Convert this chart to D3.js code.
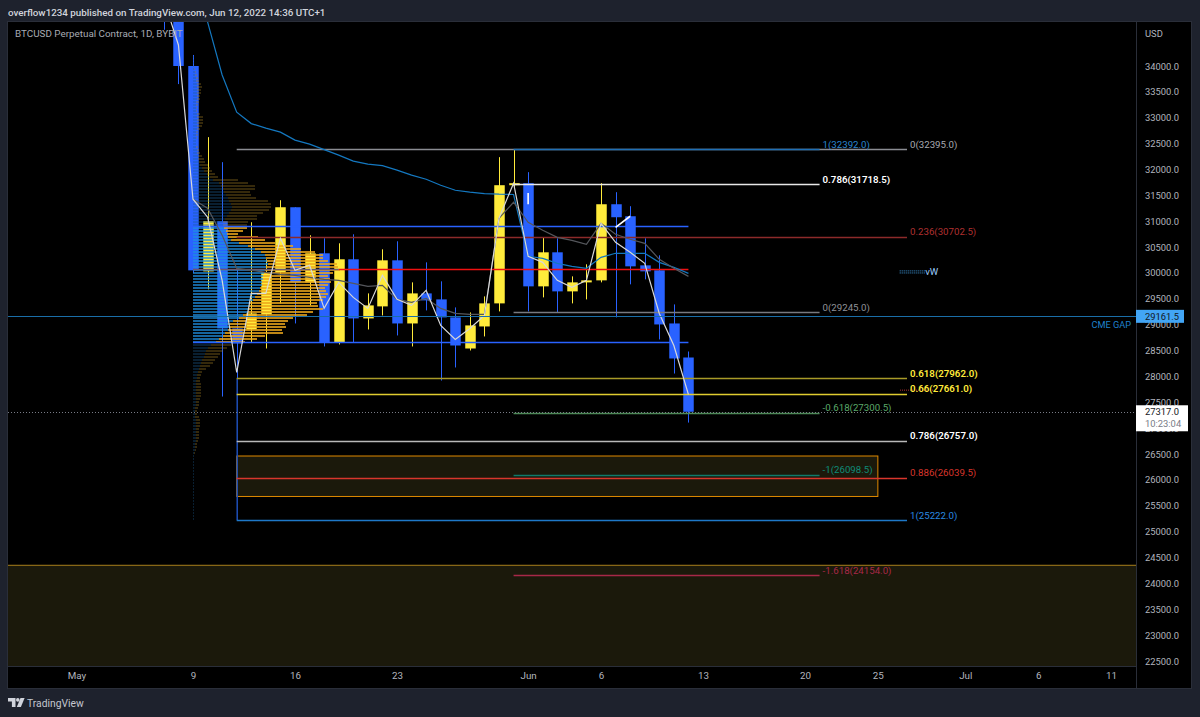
<!DOCTYPE html>
<html>
<head>
<meta charset="utf-8">
<script src="https://cdn.jsdelivr.net/npm/d3@7"></script>
<style>
html, body { margin: 0; padding: 0; background: #1e222d; }
svg { display: block; font-family: Roboto, sans-serif; }
</style>
</head>
<body>
<script>
// daily candles from 7 May 2022
var firstDay = "2022-05-07";
var opens  = [36500,35100,34000,30030,31000,28928,28908,29199,30012,31270,29818,30380,28657,30264,29121,29354,30244,29024,29605,29489,29141,28540,28966,29412,31696,31735,29741,30399,29644,29818,29857,31328,31096,30147,30051,29024,28366];
var highs  = [37000,35300,34213,32625,32141,30089,30980,30264,31406,31270,30728,30670,30573,30747,29605,30457,30612,29818,30205,29838,29334,29237,29547,32238,32393,31948,30689,30670,29934,30167,31735,31561,31290,30670,30341,29392,28482];
var lows   = [34700,33650,30000,29683,27611,27950,28657,28540,29412,29024,29373,28579,28618,28657,28908,29179,28792,28579,29276,27921,28173,28502,28773,29257,31657,29257,29528,29237,29412,29489,29818,29141,29780,29876,28715,28056,27108];
var closes = [35100,34000,30050,31000,28928,28637,29218,30012,31270,29818,30380,28657,30264,29121,29373,30244,29024,29605,29470,29141,28598,28986,29412,31696,31735,29741,30399,29644,29818,29857,31328,31077,30128,30031,29005,28347,27317];

// moving lines over the candles
var whiteLine = [35278,34407,31425,31077,29857,28076,29605,29605,30670,30051,30147,29315,29818,29528,29315,29954,29489,29373,29663,28986,28715,28928,29179,31057,31735,30322,30205,29857,29721,29857,30960,30593,30399,30186,29218,28598,27650];
var grayLine  = [31425,31251,30728,30089,30051,30012,29973,29954,29915,29876,29857,29799,29741,29760,29489,29431,29508,29315,29218,29199,29199,31057,31367,30980,30825,30689,30631,30554,30960,30747,30651,30573,30264,30089,29934];
var tealLine  = [35955,34852,33826,33109,32887,32800,32722,32567,32490,32383,32277,32161,32103,32074,31987,31890,31812,31696,31599,31561,31535,31522,31516,30322,30283,30186,30128,30089,30302,30380,30380,30380,30205,30109,29992];
var lineStarts = { white: "2022-05-07", gray: "2022-05-09", teal: "2022-05-09" };

// volume profile rows, top row price and row size in USD
var profileTop = 34190;
var profileStep = 58;
var valueHigh = 30898;
var valueLow = 28656;
var profileDown = [1,1,1,1,1,2,2,3,3,4,4,4,4,4,4,3,3,3,3,4,4,4,4,4,4,3,3,3,3,3,3,4,4,5,5,6,7,9,11,14,17,20,26,28,30,31,33,35,36,38,39,38,36,34,32,30,30,31,33,34,35,38,46,55,62,68,72,73,74,75,73,72,71,70,70,69,69,67,66,64,62,60,57,56,56,55,50,46,40,37,36,35,32,30,26,23,18,15,13,12,11,9,8,7,6,5,4,4,3,3,3,3,3,3,3,3,3,2,2,2,2,3,3,3,3,3,3,3,3,2,2,2,1,1,1,1,1,1,1,1,1,1,1,1,1,1,1,1,1,1,1,1,1,1,1];
var profileUp = [0,0,0,0,1,1,2,2,3,4,5,4,4,3,3,3,2,1,1,3,6,6,6,5,3,2,2,1,0,0,2,2,3,4,6,6,8,8,8,8,8,25,29,34,32,26,25,28,39,40,39,38,34,30,32,25,24,23,17,11,30,34,36,45,46,54,58,57,61,69,72,75,69,65,67,69,66,65,67,71,71,70,67,69,74,65,64,54,55,55,57,54,58,42,38,29,20,19,17,15,14,13,12,10,7,4,4,3,4,5,5,5,5,5,4,3,3,3,2,2,4,4,4,4,3,3,3,3,2,2,2,1,1,0,0,0,0,0,0,0,0,0,0,0,0,0,0,0,0,0,0,0,0,0,0];

// horizontal levels: fib tools, profile lines, CME gap
var levelPrices = [32395,32392,31718.5,30898,30702.5,30077,29245,28656,27962,27661,27300.5,26757,26098.5,26039.5,25222,24154];
var levelNames  = ["0(32395.0)","1(32392.0)","0.786(31718.5)","","0.236(30702.5)","","0(29245.0)","","0.618(27962.0)","0.66(27661.0)","-0.618(27300.5)","0.786(26757.0)","-1(26098.5)","0.886(26039.5)","1(25222.0)","-1.618(24154.0)"];
var levelFrom   = ["2022-05-12","2022-05-31","2022-05-31","2022-05-09","2022-05-12","2022-05-19","2022-05-31","2022-05-09","2022-05-12","2022-05-12","2022-05-31","2022-05-12","2022-05-31","2022-05-12","2022-05-12","2022-05-31"];
var levelTo     = ["2022-06-27","2022-06-21","2022-06-21","2022-06-12","2022-06-27","2022-06-12","2022-06-21","2022-06-12","2022-06-27","2022-06-27","2022-06-21","2022-06-27","2022-06-21","2022-06-27","2022-06-27","2022-06-21"];

var priceTicks = [22500,23000,23500,24000,24500,25000,25500,26000,26500,27000,27500,28000,28500,29000,29500,30000,30500,31000,31500,32000,32500,33000,33500,34000];
var timeTicks  = ["2022-05-01","2022-05-09","2022-05-16","2022-05-23","2022-06-01","2022-06-06","2022-06-13","2022-06-20","2022-06-25","2022-07-01","2022-07-06","2022-07-11"];
var timeLabels = ["May","9","16","23","Jun","6","13","20","25","Jul","6","11"];

var cmeGap = 29161.5;
var lastPrice = 27317;
var fibBox = { from: "2022-05-12", to: "2022-06-25", top: 26462, bottom: 25680 };
var supportTop = 24350;

var width = 1200, height = 717;
var plot = { left: 8, right: 1136, top: 22, bottom: 666, edge: 1191, foot: 688 };

var parse = d3.utcParse("%Y-%m-%d");
var x = d3.scaleUtc().domain([parse("2022-05-09"), parse("2022-06-13")]).range([193, 703]);
var y = d3.scaleLinear().domain([34000, 22500]).range([66, 661]);
var profileW = d3.scaleLinear().domain([0, 150]).range([0, 150]);

function dayAfter(start, i) { return d3.utcDay.offset(parse(start), i); }

var svg = d3.select("body").append("svg").attr("width", width).attr("height", height);

svg.append("rect").attr("x", plot.left).attr("y", plot.top).attr("width", plot.edge - plot.left).attr("height", plot.foot - plot.top).attr("fill", "#000");
svg.append("rect").attr("x", plot.left - 0.5).attr("y", plot.top - 0.5).attr("width", plot.edge - plot.left + 1).attr("height", plot.foot - plot.top + 1).attr("fill", "none").attr("stroke", "#2a2e39");

svg.append("defs").append("clipPath").attr("id", "plotClip").append("rect")
    .attr("x", plot.left).attr("y", plot.top).attr("width", plot.right - plot.left).attr("height", plot.bottom - plot.top);

var g = svg.append("g").attr("clip-path", "url(#plotClip)");

// shaded zones
g.append("rect").attr("x", plot.left - 2).attr("y", y(supportTop))
    .attr("width", plot.right - plot.left + 4).attr("height", plot.bottom - y(supportTop) + 2)
    .attr("fill", "#1b190b").attr("stroke", "#a8801c");
g.append("rect").attr("x", x(parse(fibBox.from))).attr("y", y(fibBox.top))
    .attr("width", x(parse(fibBox.to)) - x(parse(fibBox.from))).attr("height", y(fibBox.bottom) - y(fibBox.top))
    .attr("fill", "#1b190b").attr("stroke", "#e08a00");

// candles
var candles = opens.map(function (o, i) {
    return { date: dayAfter(firstDay, i), open: o, high: highs[i], low: lows[i], close: closes[i] };
});
var bodyW = 10.5;
function candleColor(d) { return d.close >= d.open ? "#ffeb3b" : "#2962ff"; }

g.selectAll(".wick").data(candles).enter().append("line")
    .attr("class", "wick")
    .attr("x1", function (d) { return Math.round(x(d.date)) + 0.5; })
    .attr("x2", function (d) { return Math.round(x(d.date)) + 0.5; })
    .attr("y1", function (d) { return y(d.high); })
    .attr("y2", function (d) { return y(d.low); })
    .attr("stroke", candleColor);

g.selectAll(".body").data(candles).enter().append("rect")
    .attr("class", "body")
    .attr("x", function (d) { return Math.round(x(d.date)) + 0.5 - bodyW / 2; })
    .attr("width", bodyW)
    .attr("y", function (d) { return y(Math.max(d.open, d.close)); })
    .attr("height", function (d) { return Math.max(1.5, Math.abs(y(d.open) - y(d.close))); })
    .attr("fill", candleColor);

// volume profile, brighter inside the value area
var rows = profileDown.map(function (v, i) {
    return { price: profileTop - i * profileStep, down: v, up: profileUp[i] };
});
function inValue(d) { return d.price <= valueHigh && d.price >= valueLow; }
var profileX = x(parse("2022-05-09"));

g.selectAll(".pDown").data(rows).enter().append("rect")
    .attr("class", "pDown")
    .attr("x", profileX)
    .attr("y", function (d) { return Math.round(y(d.price)); })
    .attr("width", function (d) { return profileW(d.down); })
    .attr("height", 2)
    .attr("fill", function (d) { return inValue(d) ? "#1e8fe0" : "#1a5f96"; })
    .attr("opacity", function (d) { return inValue(d) ? 0.7 : 0.33; });

g.selectAll(".pUp").data(rows).enter().append("rect")
    .attr("class", "pUp")
    .attr("x", function (d) { return profileX + profileW(d.down); })
    .attr("y", function (d) { return Math.round(y(d.price)); })
    .attr("width", function (d) { return profileW(d.up); })
    .attr("height", 2)
    .attr("fill", function (d) { return inValue(d) ? "#eda81c" : "#a07c20"; })
    .attr("opacity", function (d) { return inValue(d) ? 0.8 : 0.33; });

// fib trend leg
g.append("line").attr("x1", x(parse("2022-05-12")) + 0.5).attr("x2", x(parse("2022-05-12")) + 0.5)
    .attr("y1", y(levelPrices[8])).attr("y2", y(levelPrices[14]))
    .attr("stroke", "#1e4fb8").attr("stroke-width", 1.5);

// levels
var levelColors = ["#8a8c92","#1f6fb5","#e8e8e8","#2962ff","#8c2a2a","#f01010","#787a80","#2962ff","#a89a28","#e0cc30","#4e8a58","#b8b8b8","#0f7a6a","#d8362c","#1e78c8","#a82848"];
var levels = levelPrices.map(function (p, i) {
    return { price: p, name: levelNames[i], from: parse(levelFrom[i]), to: parse(levelTo[i]), color: levelColors[i] };
});
g.selectAll(".level").data(levels).enter().append("line")
    .attr("class", "level")
    .attr("x1", function (d) { return x(d.from); })
    .attr("x2", function (d) { return x(d.to); })
    .attr("y1", function (d) { return Math.round(y(d.price)) + 0.5; })
    .attr("y2", function (d) { return Math.round(y(d.price)) + 0.5; })
    .attr("stroke", function (d) { return d.color; })
    .attr("stroke-width", 1.4);

// dim part of the POC line
g.append("line").attr("x1", x(parse("2022-05-09"))).attr("x2", x(parse("2022-05-19")))
    .attr("y1", Math.round(y(30077)) + 0.5).attr("y2", Math.round(y(30077)) + 0.5).attr("stroke", "#6a5a70").attr("stroke-width", 1.4);

// moving lines
function lineFrom(start) {
    return d3.line().x(function (d, i) { return x(dayAfter(start, i)); }).y(function (d) { return y(d); });
}
g.append("path").attr("d", lineFrom(lineStarts.teal)(tealLine)).attr("fill", "none").attr("stroke", "#1478c0").attr("stroke-width", 1.2);
g.append("path").attr("d", lineFrom(lineStarts.gray)(grayLine)).attr("fill", "none").attr("stroke", "#55575c").attr("stroke-width", 1.2);
g.append("path").attr("d", lineFrom(lineStarts.white)(whiteLine)).attr("fill", "none").attr("stroke", "#d8d8d8").attr("stroke-width", 1.2);

// two short white strokes drawn by hand on the chart
var noteStarts = ["2022-06-01","2022-06-07"];
var noteEnds   = ["2022-06-01","2022-06-08"];
var noteFrom   = [31543,30880];
var noteTo     = [31328,31096];
g.selectAll(".note").data(noteFrom).enter().append("line")
    .attr("class", "note")
    .attr("x1", function (d, i) { return x(parse(noteStarts[i])); })
    .attr("x2", function (d, i) { return x(parse(noteEnds[i])); })
    .attr("y1", function (d) { return y(d); })
    .attr("y2", function (d, i) { return y(noteTo[i]); })
    .attr("stroke", "#fff").attr("stroke-width", 1.6);

// CME gap and last price lines, all the way across
g.append("line").attr("x1", plot.left).attr("x2", plot.right).attr("y1", Math.round(y(cmeGap)) + 0.5).attr("y2", Math.round(y(cmeGap)) + 0.5)
    .attr("stroke", "#1a6ea8").attr("stroke-width", 1.2);
g.append("line").attr("x1", plot.left).attr("x2", plot.right).attr("y1", Math.round(y(lastPrice)) + 0.5).attr("y2", Math.round(y(lastPrice)) + 0.5)
    .attr("stroke", "#787b86").attr("stroke-dasharray", "1 2");

// vW marker and the small red dots beside the 0.66 label
var vwPrices = [30040,30000];
var vwFrom = new Date("2022-06-26T12:00:00Z"), vwTo = new Date("2022-06-28T06:00:00Z");
g.selectAll(".vw").data(vwPrices).enter().append("line")
    .attr("class", "vw")
    .attr("x1", x(vwFrom)).attr("x2", x(vwTo))
    .attr("y1", function (d) { return y(d); }).attr("y2", function (d) { return y(d); })
    .attr("stroke", "#3f9be0").attr("stroke-dasharray", "1 1");
g.append("text").attr("x", x(vwTo)).attr("y", y(30020) + 3.5).attr("font-size", 9.5).attr("fill", "#9fd0ff").text("vW");
g.append("line").attr("x1", 900).attr("x2", 934).attr("y1", y(27735)).attr("y2", y(27735))
    .attr("stroke", "#b03030").attr("stroke-dasharray", "1 1");

// level labels
var boldNames = ["0.786(31718.5)","0.618(27962.0)","0.66(27661.0)","0.786(26757.0)"];
var labelColors = ["#a8aab0","#2a86d0","#fff","","#b03030","","#909298","","#ffeb3b","#ffeb3b","#5aa868","#fff","#0f8c78","#d8362c","#2a8ae0","#a82848"];
g.selectAll(".levelLabel").data(levels.filter(function (d) { return d.name !== ""; })).enter().append("text")
    .attr("class", "levelLabel")
    .attr("x", function (d) { return x(d.to) + 3; })
    .attr("y", function (d) { return y(d.price) - 1.5; })
    .attr("font-size", 9.7)
    .attr("font-weight", function (d) { return boldNames.indexOf(d.name) >= 0 ? 600 : 400; })
    .attr("fill", function (d) { return labelColors[levelPrices.indexOf(d.price)]; })
    .text(function (d) { return d.name; });

g.append("text").attr("x", 1131).attr("y", 328).attr("text-anchor", "end").attr("font-size", 9.2).attr("fill", "#1f82cc").text("CME GAP");

// axes
svg.append("line").attr("x1", plot.right + 0.5).attr("x2", plot.right + 0.5).attr("y1", plot.top).attr("y2", plot.foot).attr("stroke", "#2a2e39");
svg.append("line").attr("x1", plot.left).attr("x2", plot.right).attr("y1", plot.bottom + 0.5).attr("y2", plot.bottom + 0.5).attr("stroke", "#2a2e39");

var yAxis = d3.axisRight(y).tickValues(priceTicks).tickSize(0).tickPadding(0).tickFormat(d3.format(".1f"));
var yG = svg.append("g").attr("transform", "translate(" + (plot.right + 9) + ",0)").call(yAxis);
yG.select(".domain").remove();
yG.selectAll("text").attr("font-family", "Roboto, sans-serif").attr("font-size", 9.4).attr("fill", "#b2b5be");

var xAxis = d3.axisBottom(x).tickValues(timeTicks.map(parse)).tickSize(0).tickPadding(0)
    .tickFormat(function (d, i) { return timeLabels[i]; });
var xG = svg.append("g").attr("transform", "translate(0," + (plot.bottom + 6) + ")").call(xAxis);
xG.select(".domain").remove();
xG.selectAll("text").attr("font-family", "Roboto, sans-serif").attr("font-size", 9.8).attr("fill", "#b2b5be");

svg.append("text").attr("x", 1145).attr("y", 36.5).attr("font-size", 9.4).attr("fill", "#b2b5be").text("USD");

// price tags
svg.append("rect").attr("x", plot.right).attr("y", y(cmeGap) - 6.5).attr("width", 48).attr("height", 13).attr("fill", "#42a5f5");
svg.append("text").attr("x", 1145).attr("y", y(cmeGap) + 3.5).attr("font-size", 9.4).attr("fill", "#131722").text(d3.format(".1f")(cmeGap));
svg.append("rect").attr("x", plot.right).attr("y", y(lastPrice) - 6.5).attr("width", 52).attr("height", 26).attr("fill", "#fff");
svg.append("text").attr("x", 1145).attr("y", y(lastPrice) + 3.5).attr("font-size", 9.4).attr("fill", "#131722").text(d3.format(".1f")(lastPrice));
svg.append("text").attr("x", 1145).attr("y", y(lastPrice) + 15.5).attr("font-size", 9.4).attr("fill", "#787b86").text("10:23:04");

// header, legend, footer
svg.append("text").attr("x", 8).attr("y", 15.5).attr("font-size", 9.8).attr("font-weight", 500).attr("fill", "#d1d4dc").text("overflow1234 published on TradingView.com, Jun 12, 2022 14:36 UTC+1");
svg.append("text").attr("x", 15).attr("y", 37).attr("font-size", 9.85).attr("fill", "#a8abb3").text("BTCUSD Perpetual Contract, 1D, BYBIT");

var logo = svg.append("g").attr("fill", "#d1d4dc");
logo.append("path").attr("d", "M8 698h7.5v9h-3.6v-5.4H8z");
logo.append("circle").attr("cx", 17.8).attr("cy", 699.9).attr("r", 1.8);
logo.append("path").attr("d", "M20.5 698H24.6L20.9 707H16.8z");
svg.append("text").attr("x", 27).attr("y", 706.5).attr("font-size", 10.3).attr("fill", "#c4c7cf").text("TradingView");
</script>
</body>
</html>
